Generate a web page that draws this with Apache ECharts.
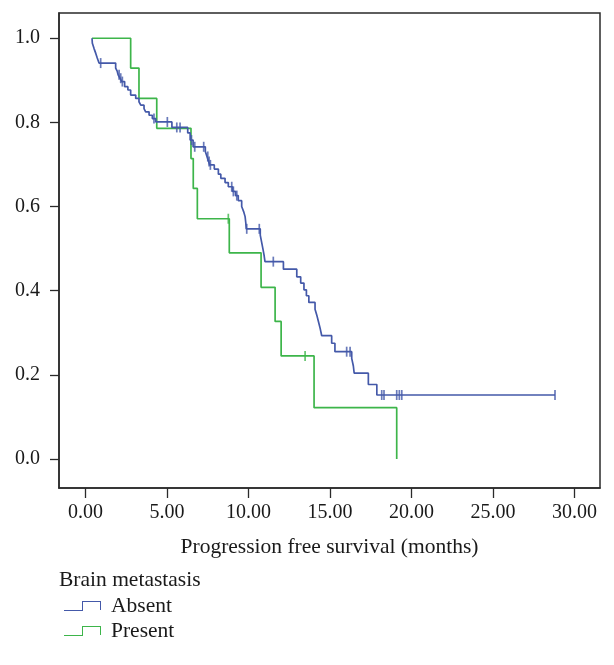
<!DOCTYPE html>
<html>
<head>
<meta charset="utf-8">
<script src="https://cdn.jsdelivr.net/npm/echarts@6/dist/echarts.min.js"></script>
<style>
html,body{margin:0;padding:0;background:#fff;}
#chart{width:614px;height:665px;}
</style>
</head>
<body>
<div id="chart"></div>
<script>
// ---- data (Kaplan-Meier steps: time of event, survival after event) ----
const absentTimes = [0.40,0.42,0.52,0.63,0.72,0.83,1.85,1.95,2.00,2.12,2.22,2.40,2.60,2.77,3.08,3.28,3.39,3.59,3.69,3.90,4.10,4.31,5.30,6.27,6.42,6.60,7.35,7.45,7.55,7.62,7.90,8.15,8.30,8.56,8.76,9.02,9.20,9.37,9.58,9.70,9.79,9.83,9.86,10.72,10.80,10.88,10.95,11.01,12.14,12.96,13.20,13.40,13.55,13.70,14.08,14.18,14.28,14.39,14.49,15.10,15.30,16.33,16.43,16.48,17.35,17.87,28.80];
const absentSurv  = [1.000,0.988,0.976,0.964,0.953,0.941,0.929,0.921,0.913,0.905,0.897,0.885,0.877,0.865,0.857,0.849,0.841,0.833,0.825,0.817,0.809,0.801,0.788,0.775,0.758,0.742,0.731,0.719,0.707,0.699,0.689,0.677,0.667,0.657,0.647,0.636,0.626,0.614,0.600,0.588,0.576,0.562,0.547,0.532,0.516,0.500,0.485,0.469,0.451,0.433,0.418,0.402,0.388,0.372,0.356,0.343,0.328,0.311,0.293,0.275,0.255,0.239,0.221,0.204,0.177,0.152,0.152];
const absentCensored = [0.93,2.06,2.16,2.26,4.20,5.02,5.60,5.80,6.50,6.70,7.25,7.50,7.58,7.66,8.97,9.07,9.28,9.89,10.66,11.52,16.02,16.23,18.17,18.31,19.09,19.25,19.40,28.80];

const presentTimes = [0.40,2.77,3.28,4.37,6.47,6.61,6.86,8.82,10.77,11.63,12.00,14.02,19.09];
const presentSurv  = [1.000,0.929,0.857,0.786,0.714,0.643,0.571,0.490,0.408,0.327,0.245,0.122,0.000];
const presentCensored = [8.76,13.47];

const xTicks = [0,5,10,15,20,25,30];
const yTicks = [0,0.2,0.4,0.6,0.8,1.0];
const groupNames = ['Absent','Present'];
const legendTitle = 'Brain metastasis';
const xTitle = 'Progression free survival (months)';

// ---- helpers ----
function pairs(t, s){ return t.map((v,i)=>[v, s[i]]); }
function survAt(t, s, time){ let r = s[0]; for(let i=0;i<t.length;i++){ if(t[i] <= time) r = s[i]; } return r; }
function censorPts(t, s, c){ return c.map(v => [v, survAt(t, s, v)]); }

const BLUE = '#4459a9';
const GREEN = '#3db54a';
const FONT = 'Liberation Serif';
const TXT = '#1a1a1a';
const AX = '#2a2a2a';

const chart = echarts.init(document.getElementById('chart'), null, {renderer:'canvas'});
const stepIcon = 'path://M0,9 L18,9 L18,0 L37,0 L37,9 L36,9 L36,1 L19,1 L19,10 L0,10 Z';

chart.setOption({
  animation:false,
  backgroundColor:'#fff',
  title:{
    text: legendTitle, left:59, top:569, padding:0,
    textStyle:{fontFamily:FONT, fontSize:21.5, fontWeight:'normal', color:TXT}
  },
  legend:{
    data: groupNames, orient:'vertical', left:59, top:590, itemGap:3,
    itemWidth:37, itemHeight:10, icon: stepIcon,
    textStyle:{fontFamily:FONT, fontSize:21.5, color:TXT, padding:[0,0,0,5], lineHeight:22}
  },
  grid:{left:59, right:14, top:13, bottom:177, show:true, borderColor:AX, borderWidth:1.5, backgroundColor:'transparent'},
  xAxis:{
    type:'value', min:-1.626, max:31.56,
    axisLine:{show:true, onZero:false, lineStyle:{color:AX, width:1.5}},
    axisTick:{show:true, inside:false, length:10, customValues:xTicks, lineStyle:{color:AX, width:1.3}},
    axisLabel:{customValues:xTicks, formatter:v=>v.toFixed(2), margin:15, fontFamily:FONT, fontSize:20, color:TXT},
    splitLine:{show:false},
    name:xTitle, nameLocation:'middle', nameGap:48,
    nameTextStyle:{fontFamily:FONT, fontSize:21.5, color:TXT}
  },
  yAxis:{
    type:'value', min:-0.069, max:1.060,
    axisLine:{show:true, onZero:false, lineStyle:{color:AX, width:1.5}},
    axisTick:{show:true, inside:false, length:9, customValues:yTicks, lineStyle:{color:AX, width:1.3}},
    axisLabel:{customValues:yTicks, formatter:v=>v.toFixed(1), margin:19, fontFamily:FONT, fontSize:20, color:TXT},
    splitLine:{show:false}
  },
  series:[
    {name:groupNames[0], type:'line', step:'end', data:pairs(absentTimes, absentSurv), symbol:'none',
     color:BLUE, lineStyle:{color:BLUE, width:1.7}, z:3},
    {name:groupNames[1], type:'line', step:'end', data:pairs(presentTimes, presentSurv), symbol:'none',
     color:GREEN, lineStyle:{color:GREEN, width:1.7}, z:2},
    {name:groupNames[0]+' censored', type:'scatter', data:censorPts(absentTimes, absentSurv, absentCensored),
     symbol:'rect', symbolSize:[1.7,10], itemStyle:{color:BLUE}, z:4},
    {name:groupNames[1]+' censored', type:'scatter', data:censorPts(presentTimes, presentSurv, presentCensored),
     symbol:'rect', symbolSize:[1.7,10], itemStyle:{color:GREEN}, z:4}
  ]
});
</script>
</body>
</html>
